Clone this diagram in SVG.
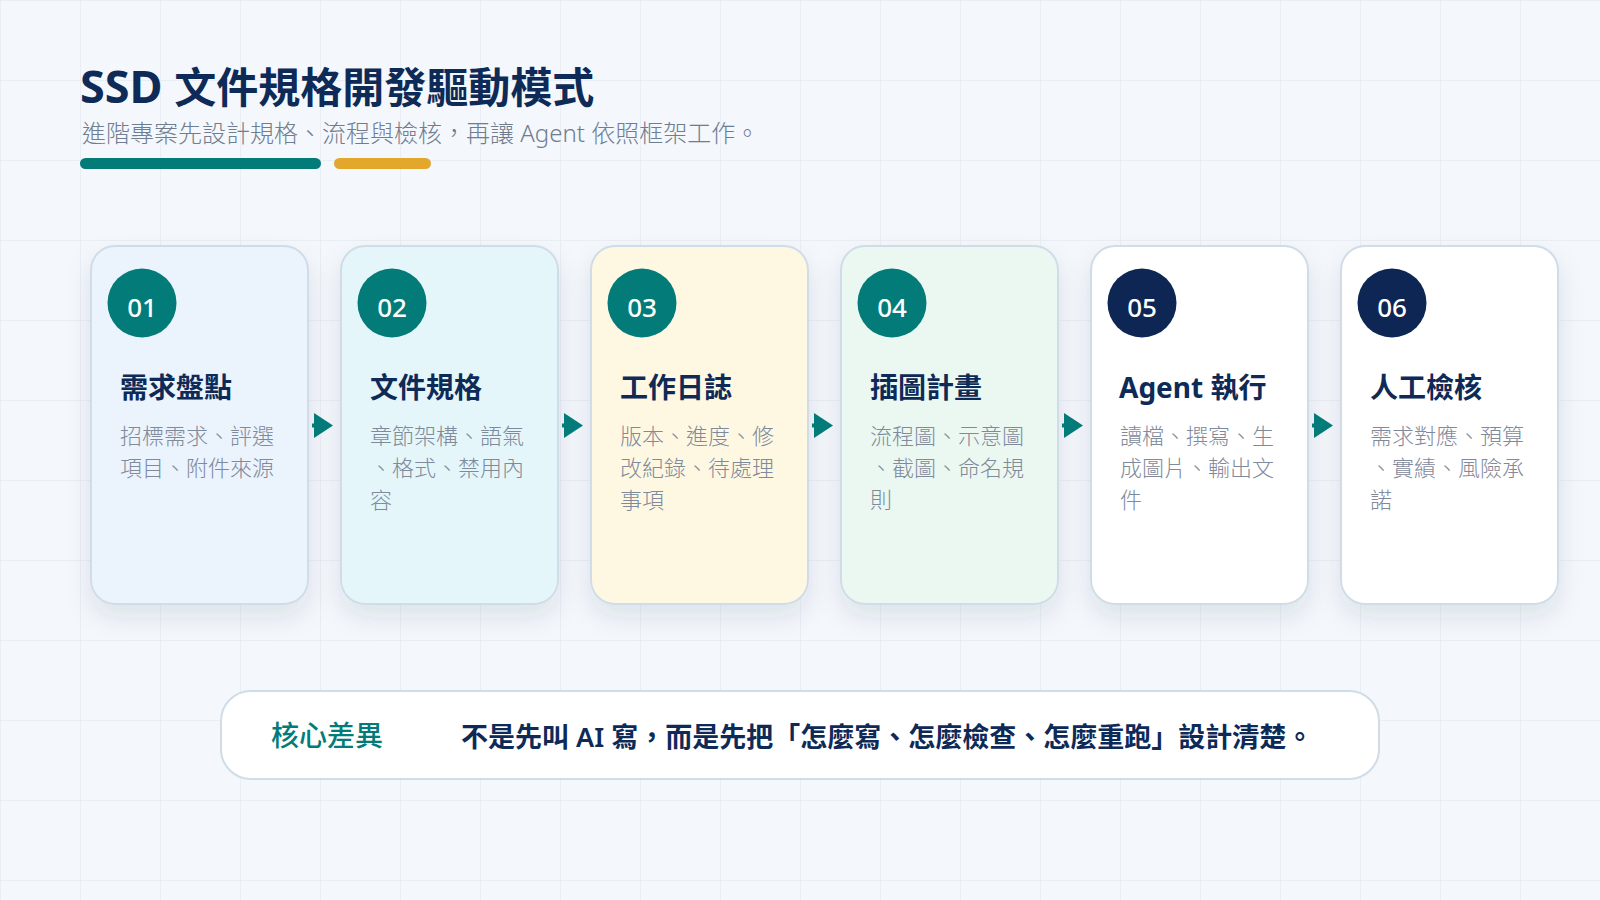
<svg xmlns="http://www.w3.org/2000/svg" width="1600" height="900" viewBox="0 0 1600 900">
  <defs>
    <pattern id="grid" width="80" height="80" patternUnits="userSpaceOnUse">
      <path d="M80 0 L0 0 L0 80" fill="none" stroke="#e6ebf2" stroke-width="1.5"/>
    </pattern>
    <filter id="shadow" x="-30%" y="-20%" width="160%" height="150%">
      <feDropShadow dx="0" dy="12" stdDeviation="12" flood-color="#0e2a57" flood-opacity="0.10"/>
    </filter>
    <marker id="arr" markerUnits="userSpaceOnUse" markerWidth="22" markerHeight="28" refX="2" refY="12.5" orient="auto">
      <path d="M0 0 L19 12.5 L0 25 Z" fill="#027b79"/>
    </marker>
    <style>
      text { font-family: "Noto Sans", "Noto Sans CJK TC", sans-serif; }
      .card { stroke: #d0dce8; stroke-width: 2; filter: url(#shadow); }
      .num { fill: #ffffff; font-size: 26px; font-weight: 500; text-anchor: middle; }
      .ttl { fill: #0e2a57; font-size: 28px; font-weight: 700; }
      .desc { fill: #7f8a9b; font-size: 22px; font-weight: 300; }
      .teal { fill: #027b79; }
      .navy { fill: #0d2654; }
      .conn line { stroke: #027b79; stroke-width: 4; }
    </style>
  </defs>

  <rect width="1600" height="900" fill="#f4f7fb"/>
  <rect width="1600" height="900" fill="url(#grid)"/>

  <g id="header">
    <text x="80" y="103" font-size="42" font-weight="700" fill="#0e2a57"><tspan font-size="45">SSD </tspan>文件規格開發驅動模式</text>
    <text x="82" y="141.5" font-size="24" font-weight="300" fill="#6f7d91">進階專案先設計規格、流程與檢核，再讓 Agent 依照框架工作。</text>
    <rect x="80" y="158" width="241" height="11" rx="5.5" fill="#027b79"/>
    <rect x="334" y="158" width="97" height="11" rx="5.5" fill="#e3a82b"/>
  </g>

  <g id="node-01">
    <rect class="card" x="91" y="246" width="217" height="358" rx="24" fill="#ebf3fd"/>
    <circle class="teal" cx="142" cy="303" r="34.5"/>
    <text class="num" x="142" y="317">01</text>
    <text class="ttl" x="120" y="398">需求盤點</text>
    <text class="desc" x="120" y="443.5">招標需求、評選</text>
    <text class="desc" x="120" y="475.5">項目、附件來源</text>
  </g>

  <g id="node-02">
    <rect class="card" x="341" y="246" width="217" height="358" rx="24" fill="#e4f6f9"/>
    <circle class="teal" cx="392" cy="303" r="34.5"/>
    <text class="num" x="392" y="317">02</text>
    <text class="ttl" x="370" y="398">文件規格</text>
    <text class="desc" x="370" y="443.5">章節架構、語氣</text>
    <text class="desc" x="370" y="475.5">、格式、禁用內</text>
    <text class="desc" x="370" y="507.5">容</text>
  </g>

  <g id="node-03">
    <rect class="card" x="591" y="246" width="217" height="358" rx="24" fill="#fef8e3"/>
    <circle class="teal" cx="642" cy="303" r="34.5"/>
    <text class="num" x="642" y="317">03</text>
    <text class="ttl" x="620" y="398">工作日誌</text>
    <text class="desc" x="620" y="443.5">版本、進度、修</text>
    <text class="desc" x="620" y="475.5">改紀錄、待處理</text>
    <text class="desc" x="620" y="507.5">事項</text>
  </g>

  <g id="node-04">
    <rect class="card" x="841" y="246" width="217" height="358" rx="24" fill="#ebf8f2"/>
    <circle class="teal" cx="892" cy="303" r="34.5"/>
    <text class="num" x="892" y="317">04</text>
    <text class="ttl" x="870" y="398">插圖計畫</text>
    <text class="desc" x="870" y="443.5">流程圖、示意圖</text>
    <text class="desc" x="870" y="475.5">、截圖、命名規</text>
    <text class="desc" x="870" y="507.5">則</text>
  </g>

  <g id="node-05">
    <rect class="card" x="1091" y="246" width="217" height="358" rx="24" fill="#ffffff"/>
    <circle class="navy" cx="1142" cy="303" r="34.5"/>
    <text class="num" x="1142" y="317">05</text>
    <text class="ttl" x="1119" y="398">Agent 執行</text>
    <text class="desc" x="1120" y="443.5">讀檔、撰寫、生</text>
    <text class="desc" x="1120" y="475.5">成圖片、輸出文</text>
    <text class="desc" x="1120" y="507.5">件</text>
  </g>

  <g id="node-06">
    <rect class="card" x="1341" y="246" width="217" height="358" rx="24" fill="#ffffff"/>
    <circle class="navy" cx="1392" cy="303" r="34.5"/>
    <text class="num" x="1392" y="317">06</text>
    <text class="ttl" x="1370" y="398">人工檢核</text>
    <text class="desc" x="1370" y="443.5">需求對應、預算</text>
    <text class="desc" x="1370" y="475.5">、實績、風險承</text>
    <text class="desc" x="1370" y="507.5">諾</text>
  </g>

  <g id="connectors" class="conn">
    <line x1="312" y1="425.5" x2="316" y2="425.5" marker-end="url(#arr)"/>
    <line x1="562" y1="425.5" x2="566" y2="425.5" marker-end="url(#arr)"/>
    <line x1="812" y1="425.5" x2="816" y2="425.5" marker-end="url(#arr)"/>
    <line x1="1062" y1="425.5" x2="1066" y2="425.5" marker-end="url(#arr)"/>
    <line x1="1312" y1="425.5" x2="1316" y2="425.5" marker-end="url(#arr)"/>
  </g>

  <g id="summary">
    <rect x="221" y="691" width="1158" height="88" rx="30" fill="#ffffff" stroke="#d0dce8" stroke-width="2"/>
    <text x="271" y="745.5" font-size="28" font-weight="500" fill="#027b79">核心差異</text>
    <text x="461" y="747" font-size="27" font-weight="600" fill="#0e2a57">不是先叫 AI 寫，而是先把「怎麼寫、怎麼檢查、怎麼重跑」設計清楚。</text>
  </g>
</svg>
